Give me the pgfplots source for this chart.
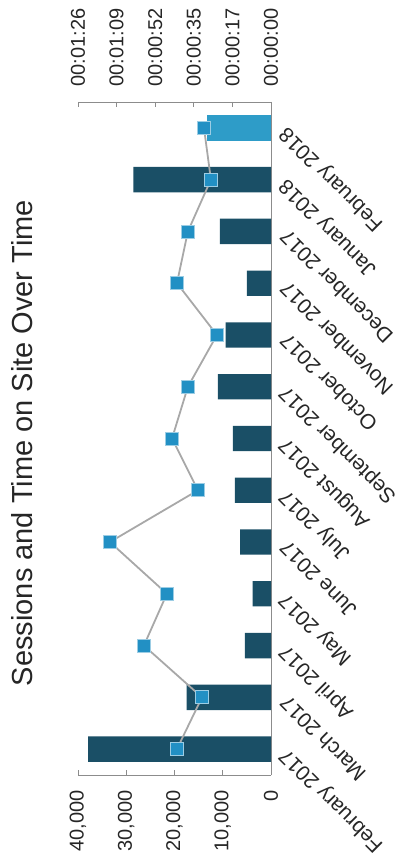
\documentclass[border=0pt]{standalone}
\usepackage{pgfplots}
\pgfplotsset{compat=1.18}
\usepackage{fontspec}
\setmainfont{Liberation Sans}
\definecolor{barDark}{HTML}{1A4F66}
\definecolor{barLight}{HTML}{2E9CC8}
\definecolor{mk}{HTML}{2290C4}
\definecolor{ln}{HTML}{A8A8A8}
\definecolor{txt}{HTML}{262626}
\definecolor{axl}{HTML}{8C8C8C}
\begin{document}
\begin{tikzpicture}[x=1pt,y=1pt]
\path[use as bounding box] (0,0) rectangle (409,867);
\node[rotate=90, anchor=base, font=\fontsize{29}{34}\selectfont, text=txt] at (32,424) {Sessions and Time on Site Over Time};
\begin{axis}[
  scale only axis, width=193pt, height=673pt,
  at={(78pt,92pt)}, anchor=south west,
  x dir=reverse, xmin=0, xmax=40000,
  ymin=-0.5, ymax=12.5,
  axis x line*=bottom, axis y line*=right,
  axis line style={axl, line width=0.8pt},
  scaled x ticks=false,
  xtick={0,10000,20000,30000,40000},
  xticklabels={0,{10,000},{20,000},{30,000},{40,000}},
  xticklabel style={rotate=90, anchor=east, font=\fontsize{20}{24}\selectfont, text=txt},
  xticklabel shift=12pt,
  x tick style={axl, line width=0.8pt},
  major tick length=5pt,
  ytick={0,1,2,3,4,5,6,7,8,9,10,11,12},
  yticklabels={February 2017,March 2017,April 2017,May 2017,June 2017,July 2017,August 2017,September 2017,October 2017,November 2017,December 2017,January 2018,February 2018},
  yticklabel style={rotate=135, anchor=east, font=\fontsize{21}{25}\selectfont, text=txt},
  yticklabel shift=10pt,
  y tick style={draw=none},
]
\addplot[xbar, bar width=0.49, bar shift=0pt, fill=barDark, draw=none] coordinates {
(37900,0) (17500,1) (5400,2) (3800,3) (6400,4) (7500,5) (7900,6) (11000,7) (9400,8) (5000,9) (10600,10) (28500,11)};
\addplot[xbar, bar width=0.49, bar shift=0pt, fill=barLight, draw=none] coordinates {(13300,12)};
\end{axis}
\begin{axis}[
  scale only axis, width=193pt, height=673pt,
  at={(78pt,92pt)}, anchor=south west,
  x dir=reverse, xmin=0, xmax=86.4,
  ymin=-0.5, ymax=12.5,
  axis x line*=top, hide y axis,
  axis line style={axl, line width=0.8pt},
  xtick={0,17.28,34.56,51.84,69.12,86.4},
  xticklabels={00:00:00,00:00:17,00:00:35,00:00:52,00:01:09,00:01:26},
  xticklabel style={rotate=90, anchor=west, font=\fontsize{20}{24}\selectfont, text=txt},
  xticklabel shift=12pt,
  x tick style={axl, line width=0.8pt},
  major tick length=5pt,
]
\addplot[ln, line width=1.8pt, mark=square*, mark size=6.5pt, mark options={fill=mk, draw=mk!45!white, line width=0.8pt, solid}] coordinates {
(42.1,0) (30.9,1) (56.9,2) (46.6,3) (72.1,4) (32.7,5) (44.3,6) (37.2,7) (24.2,8) (42.1,9) (37.2,10) (26.9,11) (30.0,12)};
\end{axis}
\end{tikzpicture}
\end{document}
